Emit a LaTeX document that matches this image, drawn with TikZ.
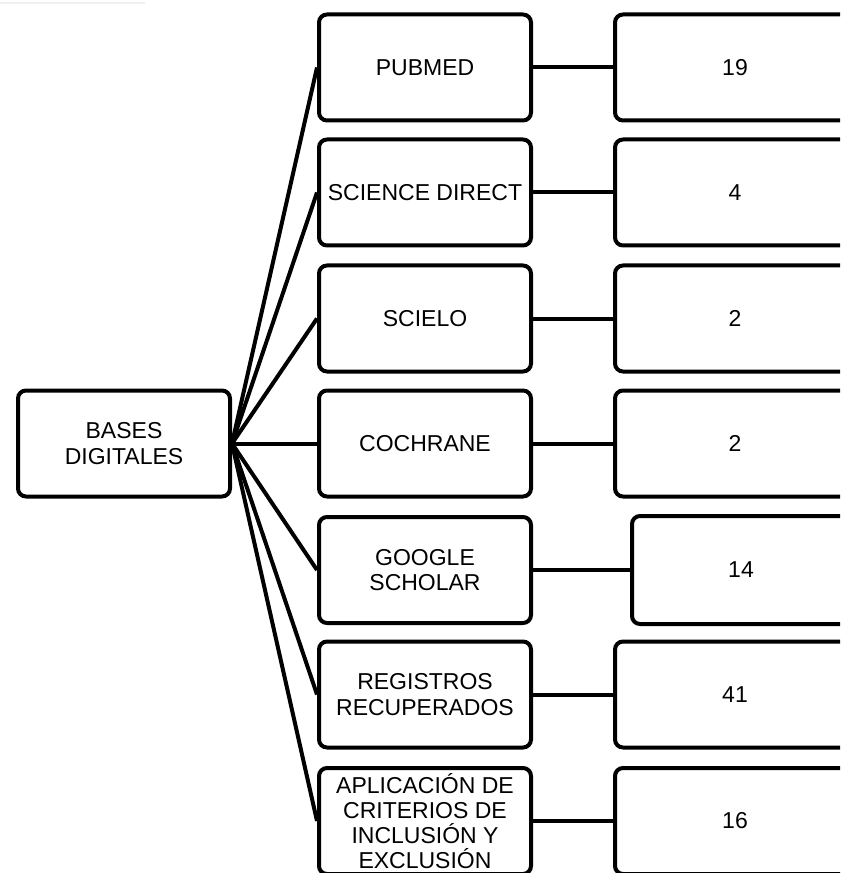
\documentclass[tikz,border=0pt]{standalone}
\usepackage{fontspec}
\setmainfont{Liberation Sans}
\begin{document}
\begin{tikzpicture}[x=0.75pt,y=-0.75pt,
  box/.style={draw=black, line width=3pt, rounded corners=6pt, fill=white,
    inner sep=0pt, align=center, minimum width=159pt, minimum height=79.5pt,
    font=\fontsize{17.25pt}{18.9pt}\selectfont},
  conn/.style={line width=3pt, black}]
\useasboundingbox (0,0) rectangle (840,873);
\clip (0,0) rectangle (840,873);
\draw[gray!12, line width=0.8pt] (0,3) -- (145,3);
% root
\node[box] (b) at (124,443.5) {BASES\\DIGITALES};
% left column
\node[box] (l1) at (425,67.5) {PUBMED};
\node[box] (l2) at (425,192.5) {SCIENCE DIRECT};
\node[box] (l3) at (425,318.5) {SCIELO};
\node[box] (l4) at (425,443.5) {COCHRANE};
\node[box] (l5) at (425,570) {GOOGLE\\SCHOLAR};
\node[box] (l6) at (425,694.5) {REGISTROS\\RECUPERADOS};
\node[box] (l7) at (425,821) {APLICACIÓN DE\\CRITERIOS DE\\INCLUSIÓN Y\\EXCLUSIÓN};
% right column
\node[box, minimum width=180pt] (r1) at (735,67.5) {19};
\node[box, minimum width=180pt] (r2) at (735,192.5) {4};
\node[box, minimum width=180pt] (r3) at (735,318.5) {2};
\node[box, minimum width=180pt] (r4) at (735,443.5) {2};
\node[box, minimum width=163.5pt, minimum height=81pt] (r5) at (741,570) {14};
\node[box, minimum width=180pt] (r6) at (735,694.5) {41};
\node[box, minimum width=180pt] (r7) at (735,821) {16};
% connectors
\foreach \i in {1,...,7}{
  \draw[conn] (b.east) -- (l\i.west);
  \draw[conn] (l\i.east) -- (r\i.west);
}
\end{tikzpicture}
\end{document}
